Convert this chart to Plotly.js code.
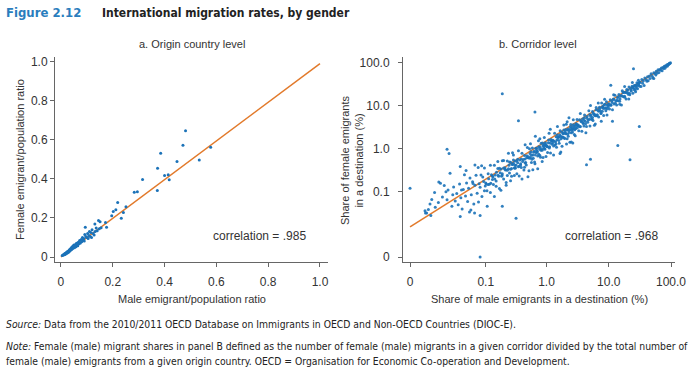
<!DOCTYPE html>
<html>
<head>
<meta charset="utf-8">
<script src="https://cdn.plot.ly/plotly-3.0.1.min.js"></script>
<style>html,body{margin:0;padding:0;background:#fff;}#chart{width:700px;height:375px;}</style>
</head>
<body>
<div id="chart"></div>
<script>
// ---------- Panel a: origin country level (male ratio, female ratio) ----------
const originPoints = [
[0.005,0.008],[0.008,0.01],[0.010,0.012],[0.012,0.011],[0.014,0.016],[0.015,0.013],[0.017,0.019],[0.018,0.015],
[0.02,0.022],[0.021,0.018],[0.023,0.025],[0.024,0.02],[0.026,0.028],[0.027,0.023],[0.029,0.031],[0.03,0.026],
[0.032,0.036],[0.033,0.03],[0.035,0.04],[0.036,0.033],[0.038,0.044],[0.039,0.037],[0.041,0.048],[0.042,0.04],
[0.044,0.052],[0.045,0.043],[0.047,0.056],[0.049,0.05],[0.05,0.061],[0.052,0.047],[0.054,0.058],[0.056,0.064],
[0.058,0.052],[0.06,0.07],[0.062,0.061],[0.065,0.058],[0.067,0.075],[0.07,0.068],[0.072,0.085],[0.075,0.072],
[0.078,0.09],[0.08,0.078],[0.083,0.1],[0.085,0.088],[0.088,0.095],[0.09,0.082],[0.092,0.115],[0.094,0.152],
[0.096,0.105],[0.1,0.1],[0.103,0.12],[0.105,0.095],[0.108,0.11],[0.11,0.13],[0.113,0.105],[0.115,0.125],
[0.118,0.1],[0.12,0.14],[0.124,0.12],[0.128,0.112],[0.131,0.169],[0.132,0.13],[0.136,0.148],[0.14,0.135],
[0.145,0.187],[0.148,0.145],[0.151,0.181],[0.155,0.15],[0.172,0.176],[0.176,0.152],
[0.196,0.211],[0.202,0.233],[0.212,0.242],[0.219,0.279],[0.233,0.199],[0.241,0.228],[0.251,0.257],
[0.283,0.332],[0.295,0.334],[0.315,0.397],[0.372,0.341],[0.373,0.455],[0.385,0.531],[0.4,0.417],
[0.414,0.421],[0.418,0.395],[0.448,0.489],[0.471,0.572],[0.481,0.647],[0.534,0.497],[0.578,0.562]
];
const originFitX = [0, 1.0];
const originFitY = [0, 0.99];

// ---------- Panel b: corridor level (male share %, female share %) ----------
const corridorTop = [
[32,35.2],[33,28],[34,40.8],[35,33.3],[36,37.8],[37,29.6],[38,43.7],[40,40],[41,36.9],[42,47],[43,37.8],[45,48.6],
[46,42.8],[48,55.2],[50,48.5],[51,43.9],[53,58.3],[55,56.1],[57,51.3],[58,62.6],[60,57],[62,68.2],[64,58.9],[66,69.3],
[68,66.6],[70,74.9],[72,64.8],[74,77],[76,73],[78,82.7],[80,74.4],[82,84.5],[84,81.5],[86,89.4],[88,83.6],[90,91.8],
[92,90.2],[94,96.8],[96,95],[98,99]
];
const corridorHigh = [
[10,10.5],[10.3,8.45],[10.6,13.8],[10.9,10.4],[11.2,12.9],[11.5,8.05],[11.9,14.3],[12.2,11],[12.6,17.6],[13,13],
[13.4,10.5],[13.8,15.5],[14.2,13.1],[14.6,18.3],[15,12.8],[15.5,16.7],[16,10.4],[16.5,22.3],[17,16.5],[17.5,20.7],
[18,15.8],[18.5,20.4],[19,14.3],[19.5,23.8],[20,20.4],[20.6,18.5],[21.2,27.1],[21.8,18.1],[22.4,25.1],[23,21.9],
[23.7,28.4],[24.4,19.5],[25,26.3],[25.7,29.6],[26.4,23],[27,29.7],[27.7,25.8],[28.4,34.1],[29,24.7],[29.7,31.5],
[30.4,29.8],[31,34.7],[31.5,28.4],[12,18],[15,10.8],[18,27.9],[21,14.3],[24,34.8],[27,21.1],[30,39],
[10.2,11.2],[10.8,10.3],[11.4,12],[12.1,13.9],[12.8,11.5],[13.5,13.5],[14.3,16],[15.2,14.4],[16.1,17.4],[17,20.4],
[18,16.6],[19.2,20.2],[20.3,23.3],[21.5,19.4],[22.8,23.3],[24.1,26.5],[25.5,24.2],[27,28.6],[28.6,28.6],[30.2,33.8]
];
const corridorUpperMid = [
[3.2,3.52],[3.3,2.64],[3.4,4.76],[3.5,3.33],[3.6,4.32],[3.7,2.59],[3.8,4.94],[3.9,3.9],[4.0,3.4],[4.1,6.15],
[4.2,4.41],[4.4,3.3],[4.5,5.63],[4.6,4.14],[4.8,7.68],[4.9,4.9],[5.0,3.4],[5.2,6.14],[5.3,4.88],[5.5,7.43],
[5.6,4.59],[5.8,6.38],[6.0,6.0],[6.1,3.78],[6.3,9.14],[6.5,5.85],[6.7,8.04],[6.9,5.52],[7.1,9.23],[7.3,7.67],
[7.5,6.6],[7.7,11.6],[7.9,7.5],[8.1,9.32],[8.3,5.98],[8.5,10.6],[8.8,8.8],[9.0,7.65],[9.2,12.4],[9.5,8.55],
[9.8,10.8],[3.5,6.65],[4.3,2.37],[5.1,10.2],[5.9,3.54],[6.8,11.6],[7.6,4.41],[8.6,14.2],[9.4,6.11],[4.0,4.6],
[5.5,5.39],[7.0,7.56],[8.0,9.6],[6.2,5.89],[9.9,10.4],
[3.25,3.58],[3.45,3.28],[3.65,4.38],[3.85,4.04],[4.05,5.27],[4.25,3.83],[4.45,5.12],[4.7,4.7],[4.95,6.19],[5.15,5.67],
[5.4,4.86],[5.65,6.78],[5.95,6.25],[6.25,8.13],[6.55,6.22],[6.85,7.54],[7.2,8.64],[7.55,6.8],[7.9,9.09],[8.25,8.66],
[8.65,10.8],[9.05,9.05],[9.45,10.4],[9.85,9.36]
];
const corridorMid = [
[1.0,1.2],[1.04,0.83],[1.08,1.62],[1.12,1.12],[1.16,0.81],[1.2,1.56],[1.25,1.38],[1.3,1.17],[1.35,2.3],[1.4,1.47],
[1.45,1.09],[1.5,2.1],[1.55,1.86],[1.6,1.36],[1.66,2.66],[1.72,1.72],[1.78,1.16],[1.84,2.3],[1.9,2.76],[1.96,1.76],
[2.02,2.32],[2.08,3.74],[2.15,1.72],[2.22,2.89],[2.3,2.42],[2.38,1.43],[2.46,3.69],[2.54,2.79],[2.62,2.49],[2.7,3.65],
[2.8,2.18],[2.9,3.48],[3.0,3.0],[3.1,4.81],[1.1,2.31],[1.3,0.72],[1.5,3.3],[1.7,0.85],[1.9,3.61],[2.1,1.3],
[2.3,5.29],[2.5,1.45],[2.7,4.73],[2.9,2.03],[1.02,1.14],[1.22,1.56],[1.42,1.31],[1.62,1.91],[1.82,1.86],[2.02,2.79],
[2.24,1.97],[2.44,2.98],[2.64,2.85],[2.84,2.78],[3.04,3.8],[1.15,2.88],[1.65,0.79],[2.15,4.3],[2.65,1.38],[3.12,3.59],
[1.03,1.13],[1.07,1.39],[1.11,1.05],[1.14,1.37],[1.18,1.65],[1.23,1.29],[1.27,1.59],[1.32,1.52],[1.37,1.23],[1.43,1.93],
[1.48,1.63],[1.53,1.84],[1.58,1.58],[1.64,2.13],[1.7,1.96],[1.76,2.46],[1.81,1.9],[1.87,2.24],[1.93,1.83],[1.99,2.49],
[2.05,2.26],[2.12,2.76],[2.19,2.19],[2.27,2.72],[2.35,2.7],[2.43,3.28],[2.51,2.38],[2.6,3.25],[2.68,2.95],[2.77,3.32],
[2.87,3.01],[2.97,3.86],[3.07,3.53],[3.15,3.15]
];
const corridorLowerMid = [
[0.32,0.416],[0.33,0.264],[0.34,0.578],[0.35,0.385],[0.36,0.234],[0.37,0.555],[0.38,0.456],[0.39,0.371],[0.4,0.8],
[0.42,0.567],[0.43,0.323],[0.44,0.704],[0.46,0.483],[0.47,0.423],[0.49,1.08],[0.5,0.625],[0.52,0.312],[0.54,0.783],
[0.55,0.633],[0.57,0.485],[0.59,1.06],[0.61,0.61],[0.63,0.882],[0.65,0.455],[0.67,1.04],[0.7,0.84],[0.72,0.684],
[0.74,1.55],[0.77,1.0],[0.8,0.64],[0.82,1.35],[0.85,0.935],[0.88,0.634],[0.91,1.27],[0.94,0.987],[0.97,1.21],
[0.35,0.91],[0.4,0.2],[0.45,1.26],[0.5,0.225],[0.55,1.32],[0.6,0.33],[0.66,1.98],[0.72,0.346],[0.78,1.72],
[0.85,0.51],[0.92,1.84],[0.98,0.666],[0.38,0.426],[0.48,0.634],[0.58,0.58],[0.68,0.83],[0.78,0.702],[0.88,1.21],
[0.33,0.528],[0.44,0.374],[0.53,1.01],[0.64,0.5],[0.75,1.13],[0.9,1.06],
[0.31,0.372],[0.34,0.476],[0.36,0.396],[0.39,0.585],[0.41,0.513],[0.45,0.473],[0.48,0.696],[0.51,0.663],[0.53,0.61],
[0.56,0.868],[0.6,0.72],[0.62,0.837],[0.66,0.726],[0.69,1.04],[0.71,0.888],[0.75,0.75],[0.79,1.11],[0.83,1.0],
[0.86,1.38],[0.9,1.17],[0.93,1.02],[0.96,1.39],[0.99,1.19],[0.45,0.585],[0.57,0.713],[0.69,0.932],[0.81,0.932],[0.95,1.33]
];
const corridorLow = [
[0.1,0.16],[0.105,0.105],[0.11,0.264],[0.115,0.15],[0.12,0.096],[0.125,0.25],[0.13,0.195],[0.135,0.149],[0.14,0.42],
[0.145,0.247],[0.15,0.135],[0.16,0.352],[0.165,0.231],[0.17,0.119],[0.18,0.342],[0.185,0.231],[0.19,0.532],[0.2,0.2],
[0.21,0.336],[0.22,0.143],[0.23,0.529],[0.24,0.348],[0.25,0.275],[0.26,0.494],[0.27,0.23],[0.28,0.434],[0.29,0.725],
[0.3,0.36],[0.31,0.527],[0.12,0.42],[0.14,0.077],[0.16,0.512],[0.18,0.108],[0.2,0.54],[0.22,0.165],[0.24,0.792],
[0.26,0.182],[0.28,0.812],[0.3,0.24],[0.11,0.149],[0.13,0.234],[0.15,0.18],[0.17,0.357],[0.19,0.266],[0.21,0.368],
[0.23,0.242],[0.25,0.5],[0.27,0.351],[0.29,0.464],[0.31,0.357],
[0.102,0.153],[0.112,0.202],[0.122,0.159],[0.132,0.224],[0.142,0.199],[0.152,0.289],[0.162,0.243],[0.175,0.28],
[0.188,0.244],[0.2,0.36],[0.215,0.323],[0.23,0.322],[0.245,0.417],[0.26,0.338],[0.275,0.44],[0.29,0.551],[0.305,0.427]
];
const corridorVeryLow = [
[0.03,0.09],[0.032,0.048],[0.034,0.153],[0.036,0.072],[0.038,0.038],[0.04,0.112],[0.042,0.252],[0.044,0.079],
[0.046,0.161],[0.048,0.058],[0.05,0.12],[0.053,0.212],[0.056,0.084],[0.059,0.171],[0.062,0.05],[0.065,0.143],
[0.068,0.245],[0.071,0.092],[0.074,0.37],[0.077,0.154],[0.08,0.128],[0.083,0.249],[0.086,0.077],[0.089,0.223],
[0.092,0.175],[0.095,0.361],[0.098,0.137],[0.035,0.0245],[0.045,0.315],[0.055,0.0358],[0.065,0.423],[0.075,0.056],
[0.085,0.408],[0.095,0.105],[0.06,0.156],
[0.0048,0.034],[0.0055,0.030],[0.0071,0.05],[0.0075,0.026],[0.0096,0.095],[0.0135,0.159],[0.0123,0.17],[0.0165,0.14],
[0.019,0.064],[0.022,0.272],[0.024,0.044],[0.025,0.084],[0.012,0.055],[0.015,0.075],[0.018,0.1],[0.02,0.11],
[0.026,0.13],[0.028,0.06],[0.01,0.042],[0.008,0.065],[0.0063,0.037],[0.005,0.03]
];
const corridorOutliers = [
[0,0.12],[0.08,0],[0.19,19],[0.019,0.98],[0.021,0.79],[0.035,0.39],[0.65,7.2],[0.35,4.5],[14,1.2],[22,0.56],
[25,72],[0.32,0.022],[4.4,0.43],[11.5,4.4],[10.8,30],[53,43],[0.037,0.11],[0.052,0.032],[0.064,0.03],[0.08,0.026],
[0.106,0.044],[0.19,0.044],[5.1,0.58],[31,3.3]
];
const corridorFitX = [0, 100];
const corridorFitY = [0.0127, 100];

// tick labels
const originTicks = [0, 0.2, 0.4, 0.6, 0.8, 1.0];
const originTickText = ['0', '0.2', '0.4', '0.6', '0.8', '1.0'];
const corridorTicks = [0, 0.1, 1, 10, 100];
const corridorTickText = ['0', '0.1', '1.0', '10.0', '100.0'];

// log(share + small offset) scales of panel b
const tX = v => Math.log10(v + 0.0065);
const tY = v => Math.log10(v + 0.00318);

const corridorAll = [].concat(corridorTop, corridorHigh, corridorUpperMid, corridorMid,
  corridorLowerMid, corridorLow, corridorVeryLow, corridorOutliers);

const BLUE = '#1b72b8';
const ORANGE = '#e27a2b';
const AX = '#666666';
const TXT = '#333333';
const FONT = 'Liberation Sans, Arial, sans-serif';
const NARROW = 'Liberation Sans Narrow, DejaVu Sans Condensed, sans-serif';

const traces = [
  {x: originFitX, y: originFitY, xaxis: 'x', yaxis: 'y', mode: 'lines',
   line: {color: ORANGE, width: 1.5}, hoverinfo: 'skip'},
  {x: originPoints.map(p => p[0]), y: originPoints.map(p => p[1]), xaxis: 'x', yaxis: 'y',
   mode: 'markers', marker: {color: BLUE, size: 3}},
  {x: corridorFitX.map(tX), y: corridorFitY.map(tY), xaxis: 'x2', yaxis: 'y2', mode: 'lines',
   line: {color: ORANGE, width: 1.5}, hoverinfo: 'skip'},
  {x: corridorAll.map(p => tX(p[0])), y: corridorAll.map(p => tY(p[1])), xaxis: 'x2', yaxis: 'y2',
   mode: 'markers', marker: {color: BLUE, size: 3, opacity: 0.9}}
];

const axBase = {
  showgrid: false, zeroline: false, showline: true, linecolor: AX, linewidth: 1,
  ticks: 'outside', ticklen: 4, tickcolor: AX, tickwidth: 1,
  tickfont: {family: FONT, size: 12, color: TXT}, fixedrange: true
};
const yTop = (375 - 57) / 375, yBot = (375 - 262) / 375;

const layout = {
  width: 700, height: 375, margin: {l: 0, r: 0, t: 0, b: 0},
  paper_bgcolor: '#ffffff', plot_bgcolor: '#ffffff', showlegend: false,
  font: {family: FONT, color: TXT},
  xaxis: Object.assign({}, axBase, {domain: [55/700, 328/700], range: [-0.023, 1.031],
    tickmode: 'array', tickvals: originTicks, ticktext: originTickText, anchor: 'y', ticklabelstandoff: 5}),
  yaxis: Object.assign({}, axBase, {domain: [yBot, yTop], range: [-0.0256, 1.024],
    tickmode: 'array', tickvals: originTicks, ticktext: originTickText, anchor: 'x'}),
  xaxis2: Object.assign({}, axBase, {domain: [403/700, 675/700], range: [-2.30, 2.064],
    tickmode: 'array', tickvals: corridorTicks.map(tX), ticktext: corridorTickText, anchor: 'y2', ticklabelstandoff: 5}),
  yaxis2: Object.assign({}, axBase, {domain: [yBot, yTop], range: [-2.613, 2.129],
    tickmode: 'array', tickvals: corridorTicks.map(tY), ticktext: corridorTickText, anchor: 'x2', ticklabelstandoff: 6}),
  annotations: [
    {text: '<b>Figure 2.12</b>',
     xref: 'paper', yref: 'paper', x: 4/700, y: 1 - 13/375, xanchor: 'left', yanchor: 'middle', showarrow: false,
     font: {family: NARROW, size: 13, color: '#2a7dbd'}},
    {text: '<b>International migration rates, by gender</b>',
     xref: 'paper', yref: 'paper', x: 100/700, y: 1 - 13/375, xanchor: 'left', yanchor: 'middle', showarrow: false,
     font: {family: NARROW, size: 12, color: '#222222'}},
    {text: 'a. Origin country level', xref: 'paper', yref: 'paper', x: 192/700, y: 1 - 44/375,
     xanchor: 'center', yanchor: 'middle', showarrow: false, font: {family: FONT, size: 11, color: TXT}},
    {text: 'b. Corridor level', xref: 'paper', yref: 'paper', x: 538/700, y: 1 - 44/375,
     xanchor: 'center', yanchor: 'middle', showarrow: false, font: {family: FONT, size: 11, color: TXT}},
    {text: 'Male emigrant/population ratio', xref: 'paper', yref: 'paper', x: 192/700, y: 1 - 299/375,
     xanchor: 'center', yanchor: 'middle', showarrow: false, font: {family: FONT, size: 11, color: TXT}},
    {text: 'Share of male emigrants in a destination (%)', xref: 'paper', yref: 'paper', x: 539/700, y: 1 - 299/375,
     xanchor: 'center', yanchor: 'middle', showarrow: false, font: {family: FONT, size: 11, color: TXT}},
    {text: 'Female emigrant/population ratio', xref: 'paper', yref: 'paper', x: 20/700, y: 1 - 160/375,
     xanchor: 'center', yanchor: 'middle', textangle: -90, showarrow: false, font: {family: FONT, size: 11, color: TXT}},
    {text: 'Share of female emigrants<br>in a destination (%)', xref: 'paper', yref: 'paper', x: 352/700, y: 1 - 160/375,
     xanchor: 'center', yanchor: 'middle', textangle: -90, showarrow: false, font: {family: FONT, size: 11, color: TXT}},
    {text: 'correlation = .985', xref: 'paper', yref: 'paper', x: 211/700, y: 1 - 236/375,
     xanchor: 'left', yanchor: 'middle', showarrow: false, font: {family: FONT, size: 12, color: TXT}},
    {text: 'correlation = .968', xref: 'paper', yref: 'paper', x: 563/700, y: 1 - 236/375,
     xanchor: 'left', yanchor: 'middle', showarrow: false, font: {family: FONT, size: 12, color: TXT}},
    {text: '<i>Source:</i> Data from the 2010/2011 OECD Database on Immigrants in OECD and Non-OECD Countries (DIOC-E).',
     xref: 'paper', yref: 'paper', x: 4/700, y: 1 - 324/375, xanchor: 'left', yanchor: 'middle', showarrow: false,
     font: {family: NARROW, size: 10.3, color: '#222222'}},
    {text: '<i>Note:</i> Female (male) migrant shares in panel B defined as the number of female (male) migrants in a given corridor divided by the total number of',
     xref: 'paper', yref: 'paper', x: 4/700, y: 1 - 346/375, xanchor: 'left', yanchor: 'middle', showarrow: false,
     font: {family: NARROW, size: 10.3, color: '#222222'}},
    {text: 'female (male) emigrants from a given origin country. OECD = Organisation for Economic Co-operation and Development.',
     xref: 'paper', yref: 'paper', x: 4/700, y: 1 - 361/375, xanchor: 'left', yanchor: 'middle', showarrow: false,
     font: {family: NARROW, size: 10.3, color: '#222222'}}
  ]
};

Plotly.newPlot('chart', traces, layout, {staticPlot: true, displayModeBar: false});
</script>
</body>
</html>
